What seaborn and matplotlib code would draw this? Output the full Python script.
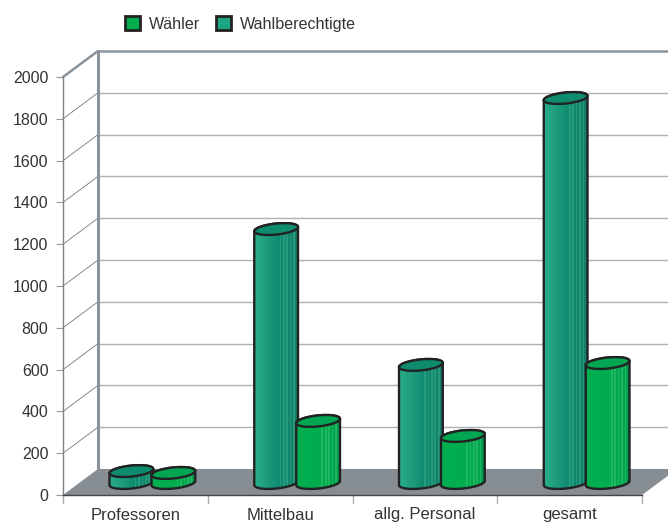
import numpy as np
import pandas as pd
import matplotlib
matplotlib.use("Agg")
import matplotlib.pyplot as plt
import seaborn as sns
from matplotlib.patches import Ellipse, Patch, Polygon, Rectangle
from matplotlib.transforms import Affine2D, IdentityTransform

sns.set_theme(style="white", font="Liberation Sans")

# values
gruppen = ["Professoren", "Mittelbau", "allg. Personal", "gesamt"]
wahlberechtigte = [57, 1215, 565, 1842]
waehler = [48, 297, 225, 574]
yticks = list(range(0, 2001, 200))

df = pd.DataFrame({
    "Gruppe": gruppen * 2,
    "Wert": wahlberechtigte + waehler,
    "Reihe": ["Wahlberechtigte"] * 4 + ["Wähler"] * 4,
})

GRUEN = "#00ae4f"
TUERKIS = "#1fa583"
LINE = "#222222"
TEXT = "#333333"
GRID = "#adb1b3"
WALL = "#8a949c"
FLOOR = "#868e94"

W, H = 668, 523
fig = plt.figure(figsize=(W / 100, H / 100), dpi=100, facecolor="white")
# axes = front plane of the fake 3d box
ax = fig.add_axes([63 / W, 1 - 495 / H, 579 / W, 418 / H])

sns.barplot(data=df, x="Gruppe", y="Wert", hue="Reihe",
            hue_order=["Wahlberechtigte", "Wähler"],
            palette={"Wahlberechtigte": TUERKIS, "Wähler": GRUEN},
            width=0.58, gap=0, legend=False, ax=ax, zorder=5)
ax.set_xlim(-0.5, 3.5)
ax.set_ylim(0, 2000)
ax.set_xlabel("")
ax.set_ylabel("")
ax.set_yticks(yticks)
ax.patch.set_visible(False)
for s in ["top", "right"]:
    ax.spines[s].set_visible(False)
ax.spines["left"].set_color("#7b8288")
ax.spines["left"].set_linewidth(1.0)
ax.spines["bottom"].set_color("#444444")
ax.spines["bottom"].set_linewidth(1.0)
ax.spines["bottom"].set_zorder(3)
ax.tick_params(axis="y", left=True, length=5, width=0.8, color="#999999",
               labelsize=11.5, labelcolor=TEXT, pad=5.5)
ax.tick_params(axis="x", bottom=False, labelsize=12, labelcolor=TEXT, pad=3)
for b in [0, 1, 2, 3, 4]:
    ax.plot([b - 0.5] * 2, [0, -0.019], transform=ax.get_xaxis_transform(),
            color="#aaaaaa", lw=1.0, clip_on=False)

# everything below is in pixels of the figure
px = IdentityTransform()
fig.canvas.draw()


def to_px(x, y):
    return ax.transData.transform((x, y))


DX, DY = 35, 26  # box depth

x0, y0 = to_px(-0.5, 0)
x1, _ = to_px(3.5, 0)
_, ytop = to_px(0, 2000)

# floor, cut off by the figure edge
ax.add_patch(Polygon([(x0, y0), (x0 + DX, y0 + DY), (x1 + DX, y0 + DY), (x1, y0)],
                     closed=True, transform=px, facecolor=FLOOR, edgecolor="none",
                     clip_on=False, zorder=1))

# back wall and side wall grid
for v in yticks:
    _, yy = to_px(0, v)
    if v > 0:
        top = v == yticks[-1]
        ax.plot([x0 + DX, W], [yy + DY] * 2, transform=px, clip_on=False, zorder=2,
                color=WALL if top else GRID, lw=1.8 if top else 1.0)
        ax.plot([x0, x0 + DX], [yy, yy + DY], transform=px, clip_on=False, zorder=2,
                color=WALL if top else "#777777", lw=1.8 if top else 0.6)
ax.plot([x0 + DX] * 2, [y0 + DY, ytop + DY], transform=px, clip_on=False,
        color=WALL, lw=2.2, zorder=2)


def half(cx, cy, rx, ry, a, b, ang=6):
    t = np.radians(np.linspace(a, b, 40))
    c, s = np.cos(np.radians(ang)), np.sin(np.radians(ang))
    ex, ey = rx * np.cos(t), ry * np.sin(t)
    return np.column_stack([cx + ex * c - ey * s, cy + ex * s + ey * c])


def stripes(base_l, base_m, base_r, hi):
    # colours left to right over the round body, light streaks on the right
    n = 26
    cols = []
    for i in range(n):
        f = i / (n - 1)
        if f < 0.55:
            c = np.array(base_l) + (np.array(base_m) - np.array(base_l)) * f / 0.55
        else:
            c = np.array(base_m) + (np.array(base_r) - np.array(base_m)) * (f - 0.55) / 0.45
        if i in (15, 17, 19, 21, 23):
            c = c + (np.array(hi) - c) * 0.4
        cols.append(c / 255)
    return cols


STYLE = {
    TUERKIS: (stripes((42, 172, 136), (16, 140, 112), (18, 128, 104), (70, 185, 150)), "#0e8c6e"),
    GRUEN: (stripes((0, 174, 79), (0, 172, 78), (0, 160, 78), (80, 205, 125)), "#00a651"),
}

SX, SY = 17, 12  # bars stand half way into the box
RX, RY = 22, 5.5
shift = ax.transData + Affine2D().translate(SX, SY)

bars = [p for c in ax.containers for p in c]
for i, p in enumerate(bars):
    col = TUERKIS if i < 4 else GRUEN
    cx_d = p.get_x() + p.get_width() / 2
    cx, cb = to_px(cx_d, 0)
    _, ct = to_px(cx_d, p.get_height())
    cx, cb, ct = cx + SX, cb + SY, ct + SY
    z = 5 + i * 0.01 + (0.5 if i >= 4 else 0)
    p.set_transform(shift)
    p.set_edgecolor("none")
    p.set_zorder(z)
    body_pts = np.vstack([half(cx, cb, RX, RY, 180, 360), half(cx, ct, RX, RY, 0, 180)])
    body = Polygon(body_pts, closed=True, transform=px, facecolor="none", edgecolor="none")
    ax.add_patch(body)
    body.set_clip_on(False)
    cols, top_col = STYLE[col]
    sw = 2 * RX / len(cols)
    for k, c in enumerate(cols):
        r = Rectangle((cx - RX + k * sw, cb - RY - 3), sw + 0.5, ct - cb + 2 * RY + 6,
                      transform=px, facecolor=c, edgecolor="none", zorder=z + 0.001)
        ax.add_patch(r)
        r.set_clip_path(body)
    ax.add_patch(Polygon(body_pts, closed=True, transform=px, facecolor="none",
                         edgecolor=LINE, lw=1.7, clip_on=False, zorder=z + 0.002))
    ax.add_patch(Ellipse((cx, ct), 2 * RX, 2 * RY, angle=6, transform=px, facecolor=top_col,
                         edgecolor=LINE, lw=1.7, clip_on=False, zorder=z + 0.003))

handles = [Patch(facecolor=GRUEN, edgecolor=LINE, lw=2.0, label="Wähler"),
           Patch(facecolor=TUERKIS, edgecolor=LINE, lw=2.0, label="Wahlberechtigte")]
fig.legend(handles=handles, ncol=2, loc="center", bbox_to_anchor=(240.5 / W, 1 - 24 / H),
           frameon=False, fontsize=11.6, labelcolor=TEXT, handlelength=0.9, handleheight=0.9,
           handletextpad=0.55, columnspacing=1.0)

fig.savefig("out.png", dpi=100, facecolor="white")
